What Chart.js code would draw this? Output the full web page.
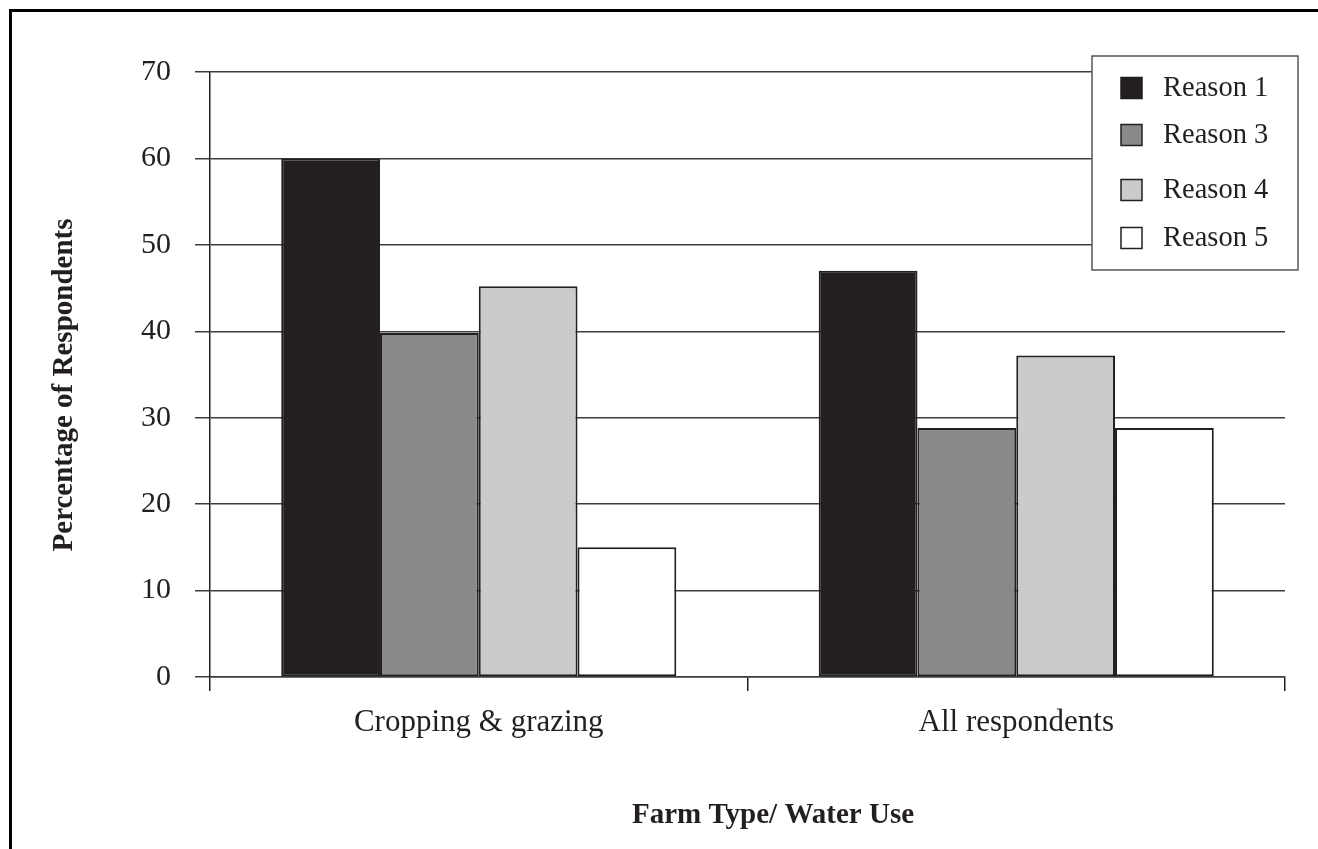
<!DOCTYPE html>
<html>
<head>
<meta charset="utf-8">
<script src="https://cdn.jsdelivr.net/npm/chart.js@4.4.1/dist/chart.umd.min.js"></script>
<style>
  html, body { margin: 0; padding: 0; background: #ffffff; }
  #wrap { position: relative; width: 1318px; height: 849px; overflow: hidden; }
  #frame { position: absolute; left: 9px; top: 9px; width: 1400px; height: 900px;
           border-left: 3px solid #000; border-top: 3px solid #000; }
  canvas { position: absolute; left: 0; top: 0; }
</style>
</head>
<body>
<div id="wrap">
  <div id="frame"></div>
  <canvas id="chart" width="1318" height="849"></canvas>
</div>
<script>
// Farm groups on the category axis
const categories = ['Cropping & grazing', 'All respondents'];

// Percentage of respondents giving each reason
const reason1 = [60, 47];
const reason3 = [39.8, 28.8];
const reason4 = [45.2, 37.2];
const reason5 = [15, 28.8];

const seriesNames = ['Reason 1', 'Reason 3', 'Reason 4', 'Reason 5'];
const seriesFills = ['#231f20', '#898989', '#cbcbcb', '#ffffff'];

const yMin = 0;
const yMax = 70;
const yStep = 10;

const xTitle = 'Farm Type/ Water Use';
const yTitle = 'Percentage of Respondents';

const serif = "'Liberation Serif', 'Times New Roman', serif";
const ink = '#231f20';

const seriesValues = [reason1, reason3, reason4, reason5];
const datasets = seriesNames.map((name, i) => ({
  label: name,
  data: seriesValues[i],
  backgroundColor: seriesFills[i],
  borderColor: ink,
  borderWidth: 2,
  borderSkipped: false,
  barPercentage: 1.0,
  categoryPercentage: 0.735
}));

// Boxed legend floating over the top-right corner of the plot
const boxLegend = {
  id: 'boxLegend',
  afterDraw(chart, args, opts) {
    const ctx = chart.ctx;
    ctx.save();
    ctx.fillStyle = '#ffffff';
    ctx.fillRect(opts.left, opts.top, opts.width, opts.height);
    ctx.strokeStyle = '#555555';
    ctx.lineWidth = 1.5;
    ctx.strokeRect(opts.left, opts.top, opts.width, opts.height);
    ctx.font = opts.fontSize + 'px ' + serif;
    ctx.textBaseline = 'middle';
    ctx.textAlign = 'left';
    chart.data.datasets.forEach((ds, i) => {
      const cy = opts.rows[i];
      const s = opts.swatch;
      ctx.fillStyle = ds.backgroundColor;
      ctx.fillRect(opts.swatchX, cy - s / 2, s, s);
      ctx.strokeStyle = ink;
      ctx.lineWidth = 1.5;
      ctx.strokeRect(opts.swatchX, cy - s / 2, s, s);
      ctx.fillStyle = ink;
      ctx.fillText(ds.label, opts.textX, cy + 1);
    });
    ctx.restore();
  }
};

// Bold axis captions
const axisCaptions = {
  id: 'axisCaptions',
  afterDraw(chart, args, opts) {
    const ctx = chart.ctx;
    ctx.save();
    ctx.fillStyle = ink;
    ctx.font = 'bold ' + opts.fontSize + 'px ' + serif;
    ctx.textAlign = 'center';
    ctx.textBaseline = 'alphabetic';
    ctx.fillText(xTitle, opts.xCenter, opts.xBaseline);
    ctx.translate(opts.yCenterX, opts.yCenterY);
    ctx.rotate(-Math.PI / 2);
    ctx.textBaseline = 'middle';
    ctx.fillText(yTitle, 0, 0);
    ctx.restore();
  }
};

new Chart(document.getElementById('chart'), {
  type: 'bar',
  data: { labels: categories, datasets },
  plugins: [boxLegend, axisCaptions],
  options: {
    responsive: false,
    animation: false,
    devicePixelRatio: 1,
    layout: { padding: { left: 14, top: 72, right: 33, bottom: 0 } },
    plugins: {
      legend: { display: false },
      tooltip: { enabled: false },
      boxLegend: {
        left: 1092, top: 56, width: 206, height: 214,
        swatchX: 1121, swatch: 21, textX: 1163,
        rows: [88, 135, 190, 238], fontSize: 28.5
      },
      axisCaptions: {
        fontSize: 29, xCenter: 773, xBaseline: 823,
        yCenterX: 65, yCenterY: 385
      }
    },
    scales: {
      x: {
        offset: true,
        grid: {
          offset: true,
          drawOnChartArea: false,
          drawTicks: true,
          tickLength: 14,
          color: ink,
          lineWidth: 1.5
        },
        border: { display: true, color: '#3c3c3c', width: 1.5 },
        ticks: {
          color: ink,
          padding: 13,
          maxRotation: 0,
          font: { family: serif, size: 31, lineHeight: 1.2 }
        },
        afterFit(scale) { scale.height = 172; }
      },
      y: {
        min: yMin,
        max: yMax,
        ticks: {
          stepSize: yStep,
          color: ink,
          padding: 24,
          font: { family: serif, size: 30, lineHeight: 1.2 }
        },
        grid: {
          color: '#3c3c3c',
          lineWidth: 1.5,
          drawTicks: true,
          tickLength: 15
        },
        border: { display: true, color: ink, width: 1.5 },
        afterFit(scale) { scale.width = 196; }
      }
    }
  }
});
</script>
</body>
</html>
